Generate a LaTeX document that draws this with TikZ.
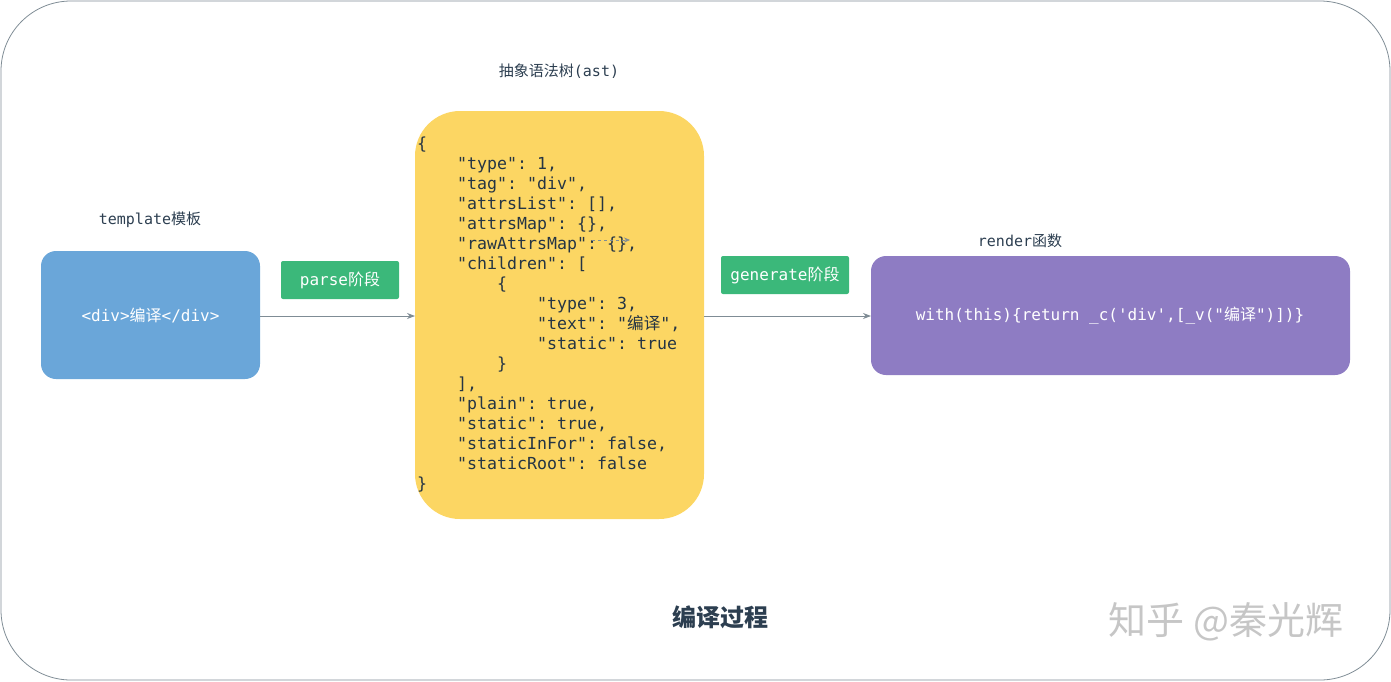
\documentclass[tikz,border=0pt]{standalone}
\usepackage{fontspec}
\setmonofont{DejaVu Sans Mono}
\newfontfamily\cjk{Noto Sans CJK SC}
\usetikzlibrary{arrows.meta}
\definecolor{ink}{HTML}{2C3E50}
\definecolor{bluebox}{HTML}{6AA6D9}
\definecolor{greenbox}{HTML}{3BB87A}
\definecolor{yellowbox}{HTML}{FCD663}
\definecolor{purplebox}{HTML}{8E7CC3}
\definecolor{edge}{HTML}{7F8C95}
\newcommand{\ind}[1]{\hspace*{#1pt}}
\begin{document}
\begin{tikzpicture}[x=1pt,y=-1pt,
  box/.style={rounded corners=15pt,draw=none},
  tag/.style={fill=greenbox,text=white,font=\ttfamily\fontsize{16}{16}\selectfont,inner sep=0pt,rounded corners=2pt},
  lbl/.style={text=ink,font=\ttfamily\fontsize{15}{15}\selectfont},
  conn/.style={draw=edge,line width=0.8pt,-{Stealth[length=8pt,width=6pt]}}]
\useasboundingbox (0,0) rectangle (1391,681);
\draw[edge,line width=0.8pt,rounded corners=70pt] (1,1) rectangle (1390,680);
% boxes
\fill[bluebox,box] (41,251) rectangle (260,379);
\node[text=white,font=\ttfamily\fontsize{16}{16}\selectfont] (tpl) at (150.5,315) {<div>{\cjk 编译}</div>};
\coordinate (tplR) at (260,316);
\fill[yellowbox,rounded corners=45pt] (415,111) rectangle (704,519);
\coordinate (astL) at (415,316);
\coordinate (astR) at (704,316);
\fill[purplebox,box] (871,256) rectangle (1350,375);
\coordinate (renL) at (871,316);
\node[text=white,font=\ttfamily\fontsize{16}{16}\selectfont] (ren) at (1110,316) {with(this)\{return \_c('div',[\_v("{\cjk 编译}")])\}};
% green tags
\node[tag,minimum width=118pt,minimum height=38pt] (parse) at (340,280) {parse{\cjk 阶段}};
\node[tag,minimum width=128pt,minimum height=38pt] (gen) at (785,275) {generate{\cjk 阶段}};
% labels
\node[lbl] (l1) at (150,220) {template{\cjk 模板}};
\node[lbl] (l2) at (559,71) {{\cjk 抽象语法树}(ast)};
\node[lbl] (l3) at (1020,241) {render{\cjk 函数}};
% code
\node[anchor=north west,inner sep=0pt,text=ink!85!black,align=left,
  font=\ttfamily\fontsize{16.6}{20}\selectfont] (code) at (417,137) {%
\{\\
\ind{40}"type": 1,\\
\ind{40}"tag": "div",\\
\ind{40}"attrsList": [],\\
\ind{40}"attrsMap": \{\},\\
\ind{40}"rawAttrsMap": \{\},\\
\ind{40}"children": [\\
\ind{80}\{\\
\ind{120}"type": 3,\\
\ind{120}"text": "{\cjk 编译}",\\
\ind{120}"static": true\\
\ind{80}\}\\
\ind{40}],\\
\ind{40}"plain": true,\\
\ind{40}"static": true,\\
\ind{40}"staticInFor": false,\\
\ind{40}"staticRoot": false\\
\}};
\coordinate (da) at (592,240);
\coordinate (db) at (630,240);
\draw[edge,dashed,line width=0.6pt,-{Stealth[length=6pt,width=5pt]}] (da) -- (db);
% connectors
\draw[conn] (tplR) -- (astL);
\draw[conn] (astR) -- (renL);
% title and watermark
\node[text=ink,font=\cjk\bfseries\fontsize{24}{24}\selectfont] (title) at (720,617) {编译过程};
\node[text=gray!45,font=\cjk\fontsize{38}{38}\selectfont] (wm) at (1226,622) {知乎 @秦光辉};
\end{tikzpicture}
\end{document}
